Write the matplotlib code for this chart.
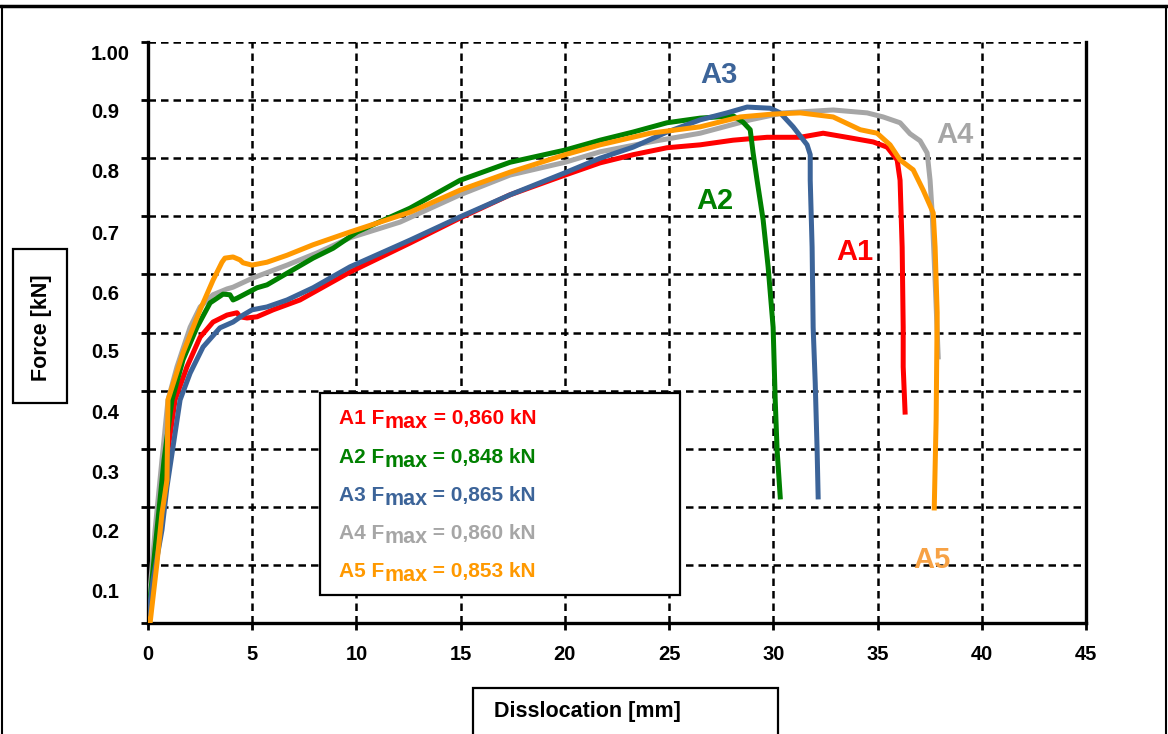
import matplotlib
matplotlib.use("Agg")
import matplotlib.pyplot as plt
from matplotlib.patches import Rectangle
from matplotlib.lines import Line2D
from matplotlib import transforms

plt.rcParams['font.family'] = ['Liberation Sans', 'DejaVu Sans']
plt.rcParams['font.weight'] = 'bold'

# curves: displacement [mm], force [kN]
a1_x = [0, 0.14, 0.43, 0.82, 1.30, 1.87, 2.50, 3.12, 3.79, 4.27, 4.41, 4.75, 5.23, 6.00, 7.29, 9.69,
        12.57, 14.97, 17.37, 20.01, 21.69, 23.27, 24.90, 26.49, 28.07, 29.70, 31.29, 32.39, 33.69,
        34.79, 35.46, 35.94, 36.08, 36.18, 36.23, 36.23, 36.32]
a1_y = [0.005, 0.057, 0.160, 0.263, 0.384, 0.441, 0.492, 0.518, 0.530, 0.534, 0.527, 0.525, 0.527,
        0.539, 0.556, 0.604, 0.654, 0.697, 0.737, 0.771, 0.792, 0.806, 0.818, 0.823, 0.831, 0.836,
        0.836, 0.843, 0.835, 0.828, 0.819, 0.797, 0.762, 0.647, 0.509, 0.441, 0.363]

a2_x = [0, 0.19, 0.43, 0.77, 1.15, 1.68, 2.35, 2.98, 3.60, 3.93, 4.08, 4.27, 4.75, 5.23, 5.71, 6.67,
        7.92, 8.88, 10.03, 12.57, 14.97, 17.37, 20.01, 21.69, 23.27, 24.90, 26.49, 28.07, 28.55,
        28.89, 29.03, 29.22, 29.51, 29.75, 29.99, 30.09, 30.18, 30.33]
a2_y = [0.005, 0.074, 0.160, 0.281, 0.384, 0.453, 0.509, 0.551, 0.566, 0.565, 0.556, 0.559, 0.568,
        0.577, 0.582, 0.602, 0.628, 0.645, 0.673, 0.714, 0.762, 0.793, 0.814, 0.831, 0.845, 0.861,
        0.869, 0.873, 0.862, 0.849, 0.809, 0.762, 0.694, 0.613, 0.509, 0.384, 0.298, 0.217]

a3_x = [0, 0.24, 0.67, 0.91, 1.54, 2.02, 2.64, 3.45, 4.08, 4.56, 4.99, 5.71, 6.67, 7.92, 9.69, 12.57,
        14.97, 17.37, 20.01, 21.69, 23.27, 24.90, 26.49, 27.78, 28.74, 29.85, 30.33, 30.95, 31.62,
        31.77, 31.77, 31.86, 31.91, 32.01, 32.10, 32.15]
a3_y = [0.005, 0.074, 0.160, 0.234, 0.384, 0.430, 0.475, 0.508, 0.518, 0.530, 0.539, 0.544, 0.556,
        0.577, 0.613, 0.659, 0.699, 0.737, 0.775, 0.800, 0.819, 0.845, 0.866, 0.878, 0.888, 0.886,
        0.878, 0.854, 0.823, 0.806, 0.762, 0.647, 0.509, 0.413, 0.298, 0.217]

a4_x = [0, 0.10, 0.34, 0.67, 0.96, 1.39, 2.02, 2.50, 3.12, 3.79, 4.08, 5.04, 6.67, 8.11, 9.69, 12.09,
        14.97, 17.37, 20.01, 21.69, 24.09, 26.49, 28.89, 30.47, 32.87, 34.50, 35.27, 36.08, 36.56,
        37.04, 37.38, 37.52, 37.62, 37.76, 37.91]
a4_y = [0.005, 0.057, 0.160, 0.281, 0.384, 0.441, 0.509, 0.544, 0.565, 0.575, 0.578, 0.594, 0.616,
        0.637, 0.663, 0.690, 0.737, 0.771, 0.793, 0.811, 0.828, 0.843, 0.866, 0.878, 0.883, 0.878,
        0.871, 0.861, 0.842, 0.830, 0.809, 0.762, 0.706, 0.590, 0.458]

a5_x = [0, 0.10, 0.43, 0.67, 0.91, 0.96, 1.68, 2.50, 3.12, 3.55, 3.69, 4.08, 4.41, 4.56, 4.99, 5.71,
        6.67, 7.92, 9.69, 12.57, 14.97, 17.37, 20.01, 21.69, 24.09, 26.49, 28.41, 29.99, 31.29,
        32.87, 34.17, 34.98, 35.60, 36.08, 36.71, 37.19, 37.67, 37.76, 37.86, 37.81, 37.72]
a5_y = [0.005, 0.0, 0.103, 0.189, 0.246, 0.384, 0.465, 0.539, 0.590, 0.621, 0.628, 0.630, 0.625,
        0.620, 0.616, 0.621, 0.633, 0.651, 0.673, 0.707, 0.745, 0.776, 0.806, 0.823, 0.843, 0.854,
        0.871, 0.876, 0.878, 0.871, 0.849, 0.843, 0.823, 0.797, 0.780, 0.745, 0.706, 0.647, 0.534,
        0.349, 0.198]

names = ['A1', 'A2', 'A3', 'A4', 'A5']
fmax = ['0,860', '0,848', '0,865', '0,860', '0,853']
colors = ['#FF0000', '#008000', '#3C6499', '#A6A6A6', '#FF9900']
label_colors = ['#FF0000', '#008000', '#3C6499', '#A6A6A6', '#F7A245']
label_x = [33.9, 27.2, 27.4, 38.7, 37.6]
label_y = [0.638, 0.726, 0.943, 0.840, 0.108]

ytick_text = ['0.1', '0.2', '0.3', '0.4', '0.5', '0.6', '0.7', '0.8', '0.9', '1.00']
ytick_text_pos = [0.053, 0.155, 0.258, 0.361, 0.465, 0.565, 0.668, 0.776, 0.878, 0.979]

W, H = 1168, 734
fig = plt.figure(figsize=(W / 100, H / 100), dpi=100)
ax = fig.add_axes([148 / W, 1 - 623 / H, (1086 - 148) / W, (623 - 42) / H])

series = [(a1_x, a1_y), (a2_x, a2_y), (a3_x, a3_y), (a4_x, a4_y), (a5_x, a5_y)]
order = [0, 3, 1, 2, 4]
for i in order:
    ax.plot(series[i][0], series[i][1], color=colors[i], lw=3.6, solid_joinstyle='round', zorder=3)

ax.set_xlim(0, 45)
ax.set_ylim(0, 1.0)
ax.set_xticks(range(0, 50, 5))
ax.set_yticks([i / 10 for i in range(11)])
ax.set_yticklabels([])
ax.set_axisbelow(True)
ax.grid(True, color='black', linestyle=(0, (3, 2)), linewidth=1.8)
ax.tick_params(axis='x', direction='out', length=5, width=2, pad=11, labelsize=14.5)
ax.tick_params(axis='y', direction='out', length=5, width=2)
ax.spines['top'].set_visible(False)
for s in ['left', 'bottom', 'right']:
    ax.spines[s].set_linewidth(2.4)

# y tick labels sit a little below their gridlines in the original
trans = transforms.blended_transform_factory(fig.transFigure, ax.transData)
for t, p in zip(ytick_text, ytick_text_pos):
    ax.text(91 / W, p, t, transform=trans, ha='left', va='center', fontsize=14.5, clip_on=False)

for n, c, x, y in zip(names, label_colors, label_x, label_y):
    ax.text(x, y, n, color=c, fontsize=21, ha='center', va='center', zorder=5, clip_on=False)

# legend box
def fx(px):
    return px / W

def fy(py):
    return 1 - py / H

ax.add_patch(Rectangle((fx(320), fy(595)), fx(680) - fx(320), fy(393) - fy(595),
                       transform=fig.transFigure, facecolor='white', edgecolor='black',
                       lw=1.6, zorder=4, clip_on=False))
row_base = [424, 463, 501, 539, 577]
for n, f, c, yb in zip(names, fmax, colors, row_base):
    t1 = ax.text(fx(339), fy(yb), n + ' F', transform=fig.transFigure, color=c, fontsize=15,
                 ha='left', va='baseline', zorder=5)
    t2 = ax.annotate('max', xy=(1, 0), xycoords=t1, xytext=(0, -3.8), textcoords='offset points',
                     color=c, fontsize=15.5, ha='left', va='bottom', zorder=5, annotation_clip=False)
    ax.annotate(' = ' + f + ' kN', xy=(1, 0), xycoords=(t2, t1), color=c, fontsize=15,
                ha='left', va='bottom', zorder=5, annotation_clip=False)

# axis title boxes
fig.add_artist(Rectangle((fx(13), fy(403)), fx(67) - fx(13), fy(249) - fy(403),
                         transform=fig.transFigure, facecolor='white', edgecolor='black', lw=1.6))
fig.text(fx(41), fy(328), 'Force [kN]', rotation=90, ha='center', va='center', fontsize=15.5)
fig.add_artist(Rectangle((fx(473), fy(745)), fx(778) - fx(473), fy(688) - fy(745),
                         transform=fig.transFigure, facecolor='white', edgecolor='black', lw=1.6,
                         clip_on=False))
fig.text(fx(494), fy(712), 'Disslocation [mm]', ha='left', va='center', fontsize=15.5)

# outer frame
fig.add_artist(Line2D([0, 1], [fy(6), fy(6)], transform=fig.transFigure, color='black', lw=2.5))
fig.add_artist(Line2D([fx(2), fx(2)], [0, fy(6)], transform=fig.transFigure, color='black', lw=1.5))
fig.add_artist(Line2D([fx(1166), fx(1166)], [0, fy(6)], transform=fig.transFigure, color='black', lw=1.5))

fig.savefig('out.png', dpi=100)
